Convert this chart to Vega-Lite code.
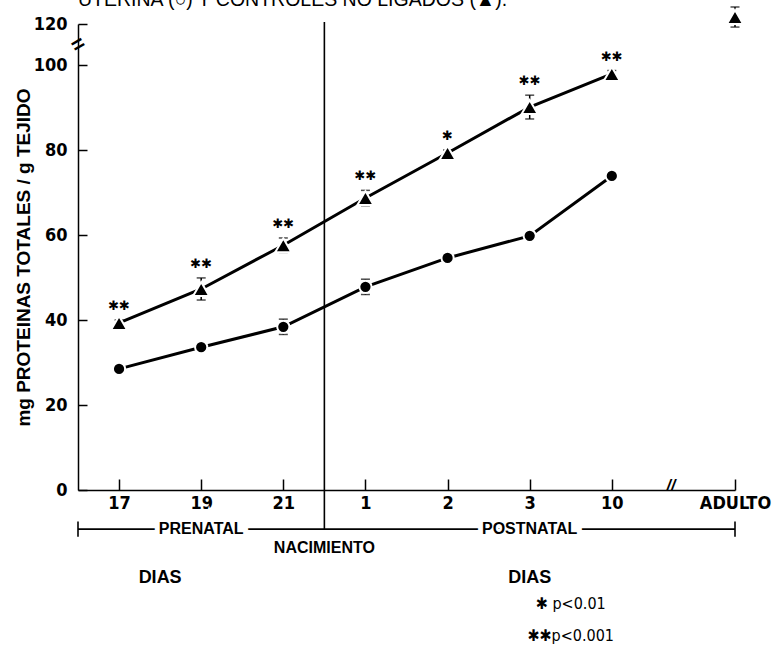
{
  "$schema": "https://vega.github.io/schema/vega-lite/v6.json",
  "width": 657,
  "height": 466,
  "autosize": "none",
  "padding": {"left": 78, "top": 24, "right": 37, "bottom": 159},
  "background": "white",
  "config": {
    "view": {"stroke": null},
    "font": "Liberation Sans",
    "axis": {"grid": false, "domainColor": "black", "tickColor": "black", "labelColor": "black", "titleColor": "black"}
  },
  "datasets": {
    "pts": [
      {"dia": "17", "serie": "control", "valor": 39.3, "lo": 38.6, "hi": 40.0, "sig": "✱✱"},
      {"dia": "19", "serie": "control", "valor": 47.3, "lo": 44.7, "hi": 49.9, "sig": "✱✱"},
      {"dia": "21", "serie": "control", "valor": 57.6, "lo": 55.9, "hi": 59.3, "sig": "✱✱"},
      {"dia": "1", "serie": "control", "valor": 68.7, "lo": 66.9, "hi": 70.5, "sig": "✱✱"},
      {"dia": "2", "serie": "control", "valor": 79.3, "lo": 78.6, "hi": 80.0, "sig": "✱"},
      {"dia": "3", "serie": "control", "valor": 90.1, "lo": 87.3, "hi": 92.9, "sig": "✱✱"},
      {"dia": "10", "serie": "control", "valor": 97.9, "lo": 97.1, "hi": 98.7, "sig": "✱✱"},
      {"dia": "ADULTO", "serie": "control", "valor": 123.4, "lo": 118.5, "hi": 128.3, "sig": ""},
      {"dia": "17", "serie": "ligado", "valor": 28.5, "lo": 27.8, "hi": 29.2, "sig": ""},
      {"dia": "19", "serie": "ligado", "valor": 33.6, "lo": 32.8, "hi": 34.4, "sig": ""},
      {"dia": "21", "serie": "ligado", "valor": 38.4, "lo": 36.6, "hi": 40.2, "sig": ""},
      {"dia": "1", "serie": "ligado", "valor": 47.8, "lo": 46.0, "hi": 49.6, "sig": ""},
      {"dia": "2", "serie": "ligado", "valor": 54.6, "lo": 53.9, "hi": 55.3, "sig": ""},
      {"dia": "3", "serie": "ligado", "valor": 59.8, "lo": 59.0, "hi": 60.6, "sig": ""},
      {"dia": "10", "serie": "ligado", "valor": 73.9, "lo": 73.1, "hi": 74.7, "sig": ""}
    ]
  },
  "encoding": {
    "x": {
      "field": "dia",
      "type": "ordinal",
      "scale": {"type": "point", "padding": 0, "domain": ["h0", "17", "h1", "19", "h2", "21", "h3", "1", "h4", "2", "h5", "3", "h6", "10", "h7", "brk", "ADULTO"]},
      "axis": {
        "title": null,
        "values": ["17", "19", "21", "1", "2", "3", "10", "ADULTO"],
        "labelAngle": 0,
        "tickSize": -11,
        "tickWidth": 1.5,
        "domainWidth": 1.5,
        "labelPadding": 15,
        "labelFontSize": 18,
        "labelFont": "'Liberation Sans Narrow', 'DejaVu Sans Condensed', 'Liberation Sans'",
        "labelFontWeight": "bold"
      }
    },
    "y": {
      "field": "valor",
      "type": "quantitative",
      "scale": {"domain": [0, 100, 120], "range": [466, 41, 0], "nice": false, "zero": false},
      "axis": {
        "title": "mg PROTEINAS TOTALES / g  TEJIDO",
        "values": [0, 20, 40, 60, 80, 100, 120],
        "tickSize": -9,
        "tickWidth": 1.5,
        "domainWidth": 1.5,
        "labelPadding": 20,
        "labelFontSize": 18,
        "labelFont": "'Liberation Sans Narrow', 'DejaVu Sans Condensed', 'Liberation Sans'",
        "labelFontWeight": "bold",
        "titleFontSize": 19,
        "titleFont": "Liberation Sans",
        "titleFontWeight": "bold",
        "titlePadding": 0
      }
    }
  },
  "layer": [
    {
      "data": {"values": [{"dia": "h0", "valor": 128.8, "txt": "UTERINA (○) Y CONTROLES NO LIGADOS (▲)."}]},
      "mark": {"type": "text", "baseline": "alphabetic", "align": "left", "fontSize": 19.5, "font": "Liberation Sans", "color": "black"},
      "encoding": {"text": {"field": "txt"}}
    },
    {
      "data": {"values": [{"dia": "h3", "valor": -9.2, "valor2": 121}]},
      "mark": {"type": "rule", "color": "black", "strokeWidth": 1.6},
      "encoding": {"y2": {"field": "valor2"}}
    },
    {
      "data": {"values": [{"dia": "h0", "dia2": "ADULTO", "valor": -9.2}]},
      "mark": {"type": "rule", "color": "black", "strokeWidth": 1.6},
      "encoding": {"x2": {"field": "dia2"}}
    },
    {
      "data": {"values": [{"dia": "h0", "valor": -7.4, "valor2": -11.0}, {"dia": "ADULTO", "valor": -7.4, "valor2": -11.0}]},
      "mark": {"type": "rule", "color": "black", "strokeWidth": 1.6},
      "encoding": {"y2": {"field": "valor2"}}
    },
    {
      "data": {"values": [
        {"dia": "19", "valor": -9.2, "txt": "PRENATAL"},
        {"dia": "3", "valor": -9.2, "txt": "POSTNATAL"}
      ]},
      "mark": {"type": "text", "baseline": "middle", "align": "center", "fontSize": 16, "fontWeight": "bold", "font": "Liberation Sans", "stroke": "white", "strokeWidth": 10, "color": "white"},
      "encoding": {"text": {"field": "txt"}}
    },
    {
      "data": {"values": [
        {"dia": "19", "valor": -9.2, "txt": "PRENATAL"},
        {"dia": "3", "valor": -9.2, "txt": "POSTNATAL"},
        {"dia": "h3", "valor": -13.6, "txt": "NACIMIENTO"}
      ]},
      "mark": {"type": "text", "baseline": "middle", "align": "center", "fontSize": 16, "fontWeight": "bold", "font": "Liberation Sans", "color": "black"},
      "encoding": {"text": {"field": "txt"}}
    },
    {
      "data": {"values": [
        {"dia": "h1", "valor": -20.7, "txt": "DIAS"},
        {"dia": "3", "valor": -20.7, "txt": "DIAS"}
      ]},
      "mark": {"type": "text", "baseline": "middle", "align": "center", "fontSize": 18, "fontWeight": "bold", "font": "Liberation Sans", "color": "black"},
      "encoding": {"text": {"field": "txt"}}
    },
    {
      "data": {"values": [
        {"dia": "h6", "valor": -26.8, "txt": "✱ p<0.01"},
        {"dia": "h6", "valor": -34.4, "txt": "✱✱p<0.001"}
      ]},
      "mark": {"type": "text", "baseline": "middle", "align": "center", "fontSize": 16, "font": "'DejaVu Sans Condensed', 'Liberation Sans'", "color": "black"},
      "encoding": {"text": {"field": "txt"}}
    },
    {
      "data": {"name": "pts"},
      "transform": [{"filter": "datum.dia != 'ADULTO'"}],
      "mark": {"type": "line", "color": "black", "strokeWidth": 3},
      "encoding": {"detail": {"field": "serie"}}
    },
    {
      "data": {"name": "pts"},
      "mark": {"type": "rule", "color": "black", "strokeWidth": 1.5},
      "encoding": {"y": {"field": "lo"}, "y2": {"field": "hi"}}
    },
    {
      "data": {"name": "pts"},
      "mark": {"type": "tick", "color": "black", "size": 9, "thickness": 1.5, "orient": "horizontal"},
      "encoding": {"y": {"field": "lo"}}
    },
    {
      "data": {"name": "pts"},
      "mark": {"type": "tick", "color": "black", "size": 9, "thickness": 1.5, "orient": "horizontal"},
      "encoding": {"y": {"field": "hi"}}
    },
    {
      "data": {"name": "pts"},
      "mark": {"type": "point", "filled": true, "color": "black", "opacity": 1, "stroke": "white", "strokeWidth": 2},
      "encoding": {
        "shape": {"field": "serie", "type": "nominal", "scale": {"domain": ["control", "ligado"], "range": ["triangle-up", "circle"]}, "legend": null},
        "size": {"field": "serie", "type": "nominal", "scale": {"domain": ["control", "ligado"], "range": [260, 150]}, "legend": null}
      }
    },
    {
      "data": {"name": "pts"},
      "mark": {"type": "text", "baseline": "middle", "align": "center", "dy": -14, "fontSize": 13, "font": "DejaVu Sans", "color": "black"},
      "encoding": {"y": {"field": "hi"}, "text": {"field": "sig"}}
    },
    {
      "data": {"values": [{"dia": "h0", "valor": 110, "txt": "="}]},
      "mark": {"type": "text", "baseline": "middle", "align": "center", "angle": -30, "fontSize": 22, "fontWeight": "bold", "color": "black"},
      "encoding": {"text": {"field": "txt"}}
    },
    {
      "data": {"values": [{"dia": "h7", "valor": 0, "txt": "//"}]},
      "mark": {"type": "text", "baseline": "middle", "align": "center", "dx": 18, "dy": -4, "fontSize": 16, "fontStyle": "italic", "fontWeight": "bold", "color": "black"},
      "encoding": {"text": {"field": "txt"}}
    }
  ]
}
